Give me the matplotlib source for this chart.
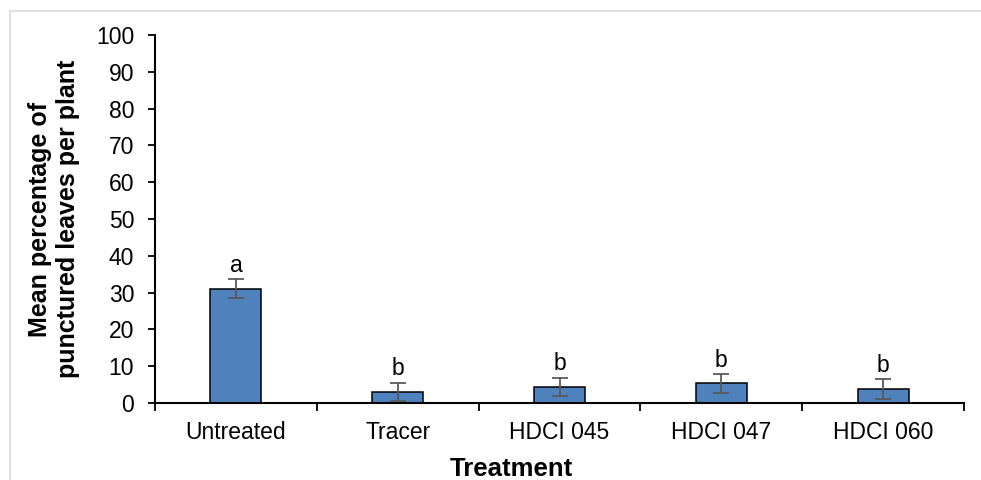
import numpy as np
import matplotlib
matplotlib.use("Agg")
import matplotlib.pyplot as plt
from matplotlib.patches import Rectangle

plt.rcParams['font.family'] = ['Liberation Sans', 'DejaVu Sans']

treatments = ["Untreated", "Tracer", "HDCI 045", "HDCI 047", "HDCI 060"]
means = [31.0, 3.0, 4.3, 5.3, 3.8]
errors = [2.6, 2.5, 2.5, 2.5, 2.6]
letters = ["a", "b", "b", "b", "b"]

fig = plt.figure(figsize=(9.81, 4.8), dpi=100)
ax = fig.add_axes([155/981, 1 - 403/480, 809/981, 368/480])

# chart area border
fig.patches.append(Rectangle((10/981, -0.05), 1.2, 1 - 11/480 + 0.05,
                             transform=fig.transFigure, fill=False,
                             edgecolor='#d9d9d9', linewidth=1.2))

x = np.arange(len(treatments))
ax.bar(x, means, width=0.315, color='#4f81bd', edgecolor='black', linewidth=1.1, zorder=2)
ax.errorbar(x, means, yerr=errors, fmt='none', ecolor='#595959',
            elinewidth=1.3, capsize=6, capthick=1.3, zorder=3)

for xi, m, e, l in zip(x, means, errors, letters):
    ax.annotate(l, (xi, m + e), xytext=(0, 5.5), textcoords='offset points',
                ha='center', va='baseline', fontsize=16.5)

ax.set_xlim(-0.5, len(treatments) - 0.5)
ax.set_ylim(0, 100)
ax.set_yticks(np.arange(0, 101, 10))
ax.set_xticks(x)
ax.set_xticklabels(treatments, fontsize=16.5)
ax.set_xticks(np.arange(-0.5, len(treatments)), minor=True)
ax.tick_params(axis='x', which='major', length=0, pad=13)
ax.tick_params(axis='x', which='minor', length=6, width=1.3, direction='out')
ax.tick_params(axis='y', labelsize=16.5, length=5, width=1.3, direction='out', pad=10)

for s in ['top', 'right']:
    ax.spines[s].set_visible(False)
for s in ['left', 'bottom']:
    ax.spines[s].set_linewidth(1.5)

fig.text(511/981, 1 - 476/480, "Treatment", ha='center', va='baseline',
         fontsize=18.5, fontweight='bold')
fig.text(54/981, 1 - 219/480, "Mean percentage of\npunctured leaves per plant",
         rotation=90, ha='center', va='center', fontsize=18, fontweight='bold',
         linespacing=1.2)

fig.savefig("out.png", dpi=100)
